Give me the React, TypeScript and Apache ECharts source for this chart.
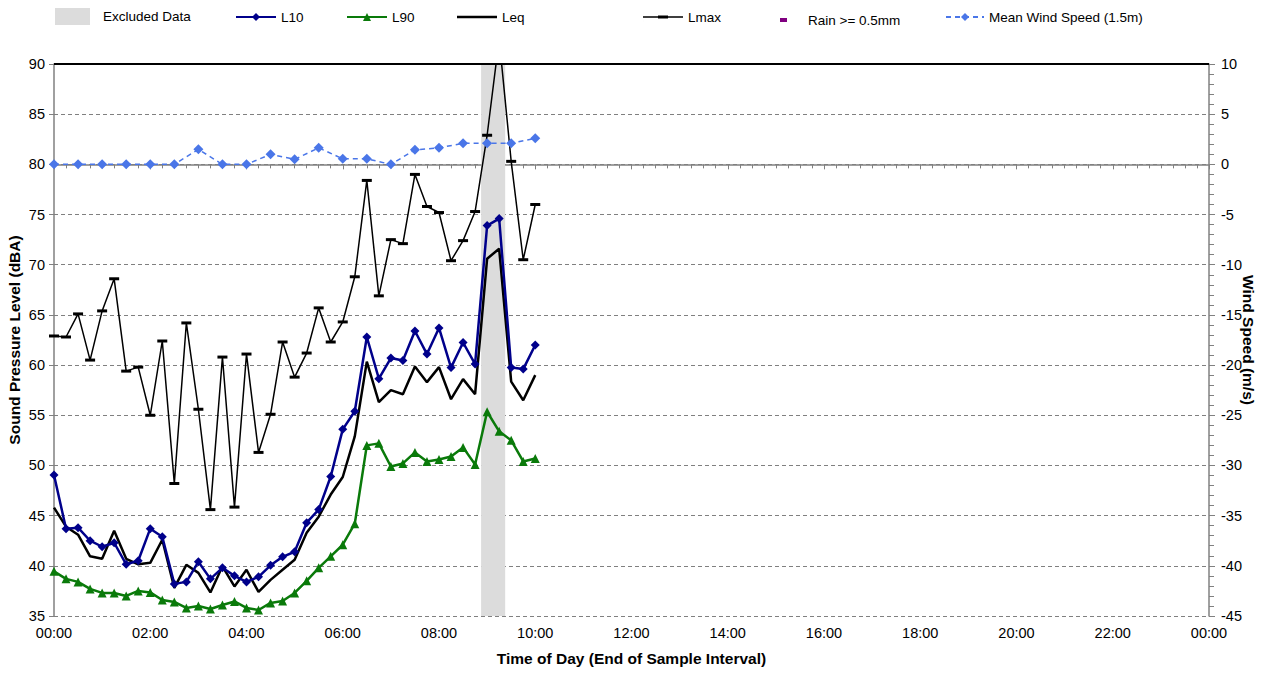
import React, { useEffect, useRef } from "react";
import * as echarts from "echarts";

const TIMES = [
  "00:00", "00:15", "00:30", "00:45", "01:00", "01:15", "01:30", "01:45",
  "02:00", "02:15", "02:30", "02:45", "03:00", "03:15", "03:30", "03:45",
  "04:00", "04:15", "04:30", "04:45", "05:00", "05:15", "05:30", "05:45",
  "06:00", "06:15", "06:30", "06:45", "07:00", "07:15", "07:30", "07:45",
  "08:00", "08:15", "08:30", "08:45", "09:00", "09:15", "09:30", "09:45",
  "10:00",
];

const L10 = [
  49.05, 43.7, 43.8, 42.5, 41.9, 42.3, 40.15, 40.5, 43.7, 42.9, 38.2, 38.4,
  40.4, 38.7, 39.8, 39.0, 38.4, 38.9, 40.05, 40.9, 41.4, 44.3, 45.6, 48.9,
  53.6, 55.4, 62.8, 58.65, 60.7, 60.45, 63.4, 61.1, 63.7, 59.75, 62.25, 60.1,
  73.9, 74.6, 59.75, 59.6, 62.0,
];

const L90 = [
  39.45, 38.7, 38.4, 37.7, 37.3, 37.3, 37.0, 37.5, 37.35, 36.6, 36.4, 35.8,
  36.0, 35.7, 36.1, 36.45, 35.8, 35.6, 36.3, 36.5, 37.3, 38.5, 39.8, 40.95,
  42.1, 44.2, 52.0, 52.2, 49.9, 50.2, 51.3, 50.4, 50.6, 50.9, 51.8, 50.1,
  55.35, 53.4, 52.5, 50.4, 50.7,
];

const LEQ = [
  45.8, 43.9, 43.1, 40.95, 40.7, 43.5, 40.7, 40.15, 40.3, 42.6, 37.8, 40.1,
  39.3, 37.35, 39.95, 37.95, 39.6, 37.4, 38.6, 39.6, 40.6, 43.3, 44.9, 47.1,
  48.85, 52.9, 60.35, 56.3, 57.5, 57.1, 59.85, 58.3, 59.8, 56.6, 58.6, 57.1,
  70.6, 71.6, 58.35, 56.5, 59.0,
];

const LMAX = [
  62.9, 62.8, 65.1, 60.5, 65.4, 68.6, 59.4, 59.8, 55.0, 62.4, 48.2, 64.2,
  55.6, 45.6, 60.8, 45.85, 61.1, 51.3, 55.1, 62.3, 58.8, 61.2, 65.7, 62.3,
  64.3, 68.8, 78.4, 66.9, 72.5, 72.1, 79.0, 75.8, 75.2, 70.4, 72.4, 75.3,
  82.9, 92.5, 80.3, 70.5, 76.0,
];

const WIND_TIMES = [
  "00:00", "00:30", "01:00", "01:30", "02:00", "02:30", "03:00", "03:30",
  "04:00", "04:30", "05:00", "05:30", "06:00", "06:30", "07:00", "07:30",
  "08:00", "08:30", "09:00", "09:30", "10:00",
];
const WIND = [
  0, 0, 0, 0, 0, 0, 1.5, 0, 0, 1.0, 0.5, 1.65, 0.55, 0.55, 0, 1.45, 1.65,
  2.1, 2.1, 2.1, 2.6,
];

// Excluded data periods (start, end) as clock times
const EXCLUDED = [["08:52:30", "09:22:30"]];

const X_TICKS = ["00:00", "02:00", "04:00", "06:00", "08:00", "10:00", "12:00",
  "14:00", "16:00", "18:00", "20:00", "22:00", "00:00"];

const toMin = (t: string) => {
  const p = t.split(":").map(Number);
  return p[0] * 60 + p[1] + (p[2] || 0) / 60;
};

const FONT = "'Liberation Sans', Arial, sans-serif";

export default function App() {
  const ref = useRef<HTMLDivElement>(null);

  useEffect(() => {
    if (!ref.current) return;
    const chart = echarts.init(ref.current, undefined, { renderer: "svg" });
    const pts = (vals: number[]) => TIMES.map((t, i) => [toMin(t), vals[i]]);
    const legendText = { fontFamily: FONT, fontSize: 13.5, color: "#000" };
    const titleStyle = { fontFamily: FONT, fontSize: 15.5, fontWeight: "bold", color: "#000" };

    const option: any = {
      animation: false,
      backgroundColor: "#fff",
      textStyle: { fontFamily: FONT },
      grid: {
        left: 54, right: 59, top: 64, bottom: 57,
        containLabel: false, outerBoundsMode: "none",
      },
      legend: [
        {
          left: 55, top: 8, padding: 0, itemWidth: 35, itemHeight: 17,
          data: [{ name: "Excluded Data", icon: "rect", itemStyle: { color: "#dcdcdc" } }],
          textStyle: { ...legendText, padding: [0, 0, 0, 8] },
        },
        { left: 235, top: 10, padding: 0, itemWidth: 40, itemHeight: 10, data: ["L10"], textStyle: legendText },
        { left: 346, top: 10, padding: 0, itemWidth: 40, itemHeight: 10, data: ["L90"], textStyle: legendText },
        {
          left: 457, top: 10, padding: 0, itemWidth: 40, itemHeight: 10,
          data: [{ name: "Leq", icon: "path://M0,3.7 L40,3.7 L40,6.3 L0,6.3 Z M0,0 L0.01,0 L0.01,10 L0,10 Z" }],
          textStyle: legendText,
        },
        {
          left: 643, top: 10, padding: 0, itemWidth: 40, itemHeight: 10,
          data: [{ name: "Lmax", icon: "path://M0,4.3 L40,4.3 L40,5.7 L0,5.7 Z M15,3.4 L25,3.4 L25,6.6 L15,6.6 Z M0,0 L0.01,0 L0.01,10 L0,10 Z" }],
          textStyle: legendText,
        },
        {
          left: 780, top: 13, padding: 0, itemWidth: 7, itemHeight: 4,
          data: [{ name: "Rain >= 0.5mm", icon: "rect" }],
          textStyle: { ...legendText, padding: [0, 0, 0, 16] },
        },
        { left: 945, top: 10, padding: 0, itemWidth: 38, itemHeight: 10, data: ["Mean Wind Speed (1.5m)"], textStyle: legendText },
      ],
      xAxis: {
        type: "value",
        min: 0,
        max: 1440,
        interval: 120,
        name: "Time of Day (End of Sample Interval)",
        nameLocation: "middle",
        nameGap: 34,
        nameMoveOverlap: false,
        nameTextStyle: titleStyle,
        axisLine: { lineStyle: { color: "#808080", width: 1.5 } },
        axisTick: { show: true, length: 5, lineStyle: { color: "#808080" } },
        minorTick: { show: true, splitNumber: 8, length: 4, lineStyle: { color: "#808080" } },
        splitLine: { show: false },
        axisLabel: {
          fontFamily: FONT, fontSize: 14.5, color: "#000", margin: 9,
          formatter: (v: number) => X_TICKS[Math.round(v / 120)] ?? "",
        },
      },
      yAxis: [
        {
          type: "value",
          min: 35,
          max: 90,
          interval: 5,
          name: "Sound Pressure Level (dBA)",
          nameLocation: "middle",
          nameGap: 32,
          nameMoveOverlap: false,
          nameRotate: 90,
          nameTextStyle: titleStyle,
          axisLine: { show: true, lineStyle: { color: "#808080", width: 1.5 } },
          axisTick: { show: true, length: 5, lineStyle: { color: "#808080" } },
          splitLine: { show: true, lineStyle: { color: "#808080", type: [4, 3], width: 1 } },
          axisLabel: { fontFamily: FONT, fontSize: 14.5, color: "#000", margin: 9 },
        },
        {
          type: "value",
          min: -45,
          max: 10,
          interval: 5,
          position: "right",
          name: "Wind Speed (m/s)",
          nameLocation: "middle",
          nameGap: 31,
          nameMoveOverlap: false,
          nameRotate: -90,
          nameTextStyle: titleStyle,
          axisLine: { show: true, lineStyle: { color: "#808080", width: 1.5 } },
          axisTick: { show: true, length: 6, lineStyle: { color: "#808080" } },
          minorTick: { show: true, splitNumber: 5, length: 5, lineStyle: { color: "#808080" } },
          splitLine: { show: false },
          axisLabel: { fontFamily: FONT, fontSize: 14.5, color: "#000", margin: 12 },
        },
      ],
      series: [
        {
          name: "Excluded Data",
          type: "line",
          data: [],
          itemStyle: { color: "#dcdcdc" },
          markArea: {
            silent: true,
            itemStyle: { color: "#dcdcdc" },
            data: EXCLUDED.map(([a, b]) => [{ xAxis: toMin(a) }, { xAxis: toMin(b) }]),
          },
          markLine: {
            silent: true,
            symbol: "none",
            label: { show: false },
            lineStyle: { color: "#000", type: "solid", width: 2 },
            data: [{ yAxis: 90 }],
          },
          z: 1,
        },
        {
          name: "Lmax",
          type: "line",
          data: pts(LMAX),
          symbol: "rect",
          symbolSize: [10, 3],
          itemStyle: { color: "#000" },
          lineStyle: { color: "#000", width: 1.5 },
          z: 3,
        },
        {
          name: "Leq",
          type: "line",
          data: pts(LEQ),
          showSymbol: false,
          symbol: "none",
          itemStyle: { color: "#000" },
          lineStyle: { color: "#000", width: 2.5 },
          z: 4,
        },
        {
          name: "L90",
          type: "line",
          data: pts(L90),
          symbol: "triangle",
          symbolSize: 9,
          itemStyle: { color: "#0a7a0a" },
          lineStyle: { color: "#0a7a0a", width: 2.5 },
          z: 5,
        },
        {
          name: "L10",
          type: "line",
          data: pts(L10),
          symbol: "diamond",
          symbolSize: 9,
          itemStyle: { color: "#00008b" },
          lineStyle: { color: "#00008b", width: 2.5 },
          z: 6,
        },
        {
          name: "Rain >= 0.5mm",
          type: "line",
          data: [],
          itemStyle: { color: "#800080" },
          z: 2,
        },
        {
          name: "Mean Wind Speed (1.5m)",
          type: "line",
          yAxisIndex: 1,
          data: WIND_TIMES.map((t, i) => [toMin(t), WIND[i]]),
          symbol: "diamond",
          symbolSize: 10,
          itemStyle: { color: "#4a76e8" },
          lineStyle: { color: "#4a76e8", width: 1.5, type: [5, 4] },
          z: 7,
        },
      ],
    };
    chart.setOption(option);
    return () => chart.dispose();
  }, []);

  return (
    <div
      ref={ref}
      style={{ position: "absolute", left: 0, top: 0, width: 1268, height: 673, background: "#fff" }}
    />
  );
}
